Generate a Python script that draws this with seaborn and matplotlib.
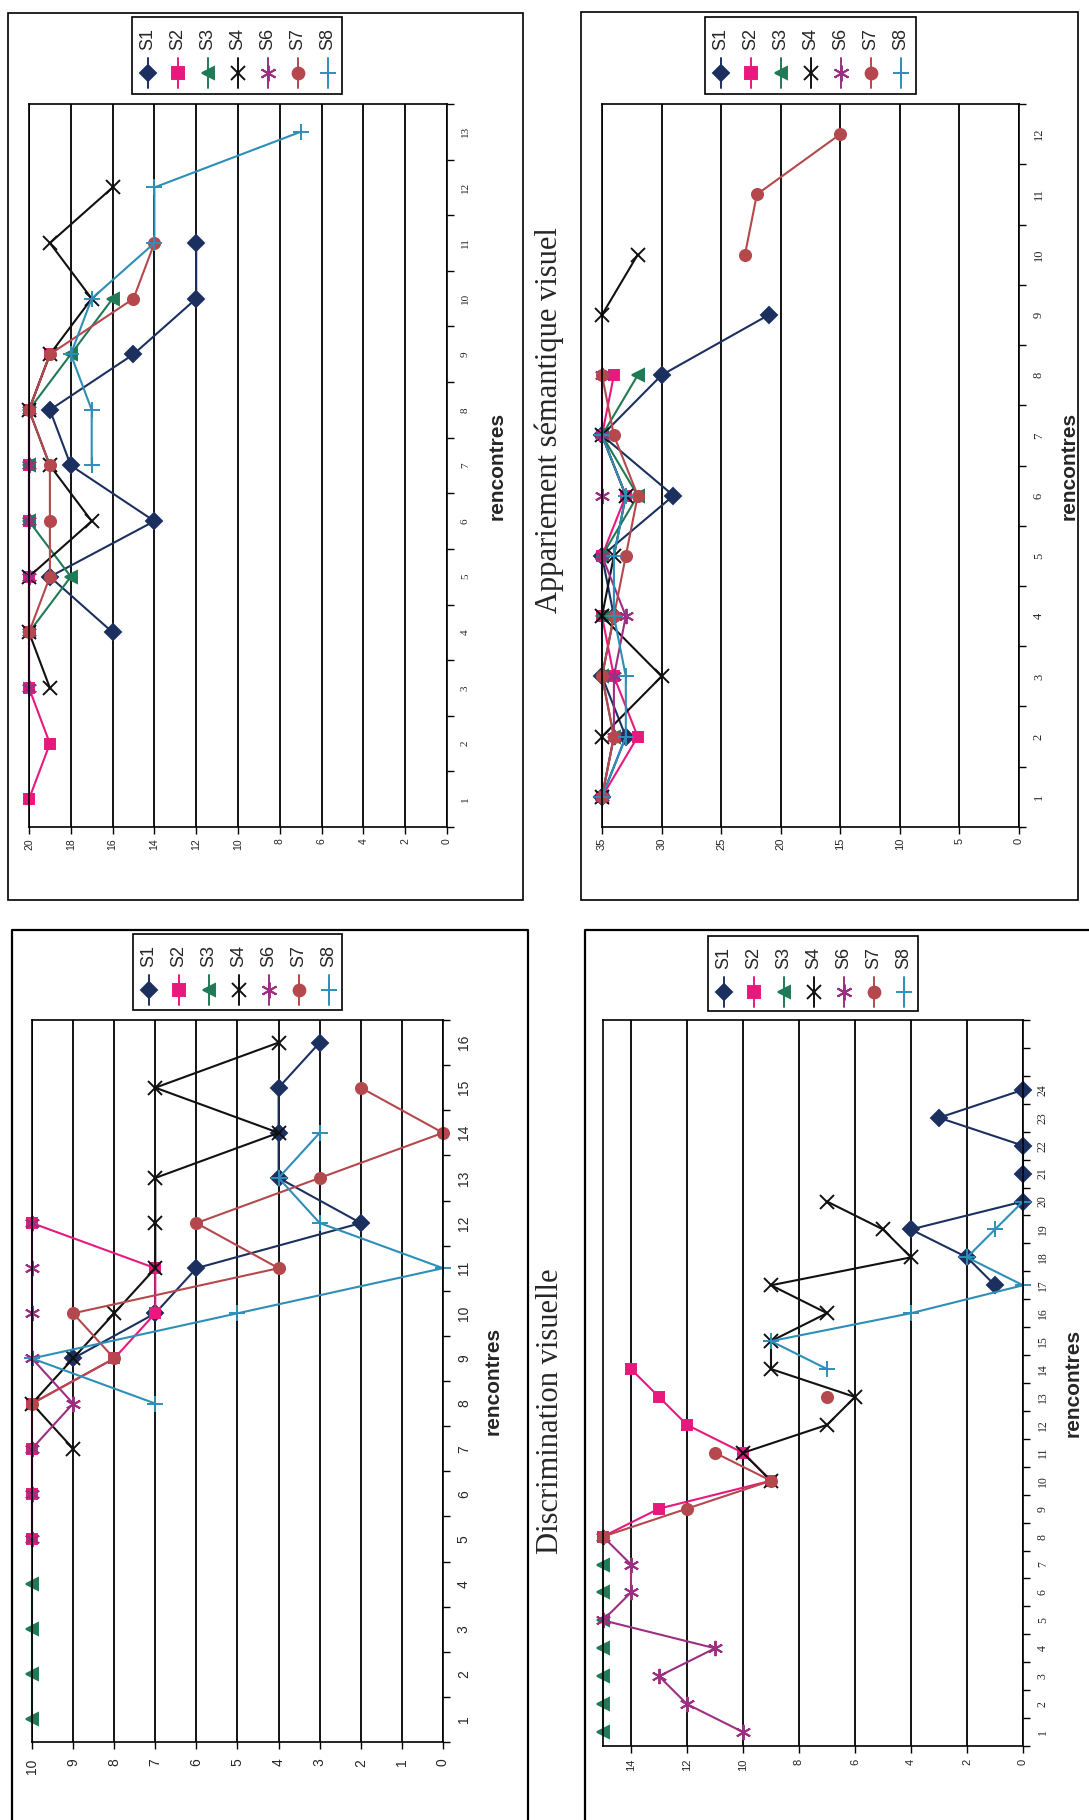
import matplotlib
matplotlib.use('Agg')
import matplotlib.pyplot as plt
import numpy as np
import pandas as pd
import seaborn as sns
from matplotlib.patches import Rectangle

W, H = 1089, 1820
N = None

sujets = ['S1', 'S2', 'S3', 'S4', 'S6', 'S7', 'S8']
couleurs = {'S1': '#1c3060', 'S2': '#e8197d', 'S3': '#1f7a55', 'S4': '#111111',
            'S6': '#9c2f82', 'S7': '#b5484d', 'S8': '#2d8fb8'}
marqueurs = {'S1': 'D', 'S2': 's', 'S3': '<', 'S4': 'x', 'S6': (6, 2, 0), 'S7': 'o', 'S8': '+'}

# haut gauche : 13 rencontres, score sur 20
rencontres_a = list(range(1, 14))
a_s1 = [N, N, N, 16, 19, 14, 18, 19, 15, 12, 12, N, N]
a_s2 = [20, 19, 20, 20, 20, 20, 20, 20, 19, N, N, N, N]
a_s3 = [N, N, N, 20, 18, 20, 20, 20, 18, 16, N, N, N]
a_s4 = [N, N, 19, 20, 20, 17, 19, 20, 19, 17, 19, 16, N]
a_s6 = [N, N, 20, 20, 20, 20, 20, 20, N, N, N, N, N]
a_s7 = [N, N, N, 20, 19, 19, 19, 20, 19, 15, 14, N, N]
a_s8 = [N, N, N, N, N, N, 17, 17, 18, 17, 14, 14, 7]

# haut droite : Appariement sémantique visuel, score sur 35
rencontres_b = list(range(1, 13))
b_s1 = [35, 33, 35, 34, 35, 29, 35, 30, 21, N, N, N]
b_s2 = [35, 32, 34, 35, 35, 33, 35, 34, N, N, N, N]
b_s3 = [35, 34, 35, 35, 35, 32, 35, 32, N, N, N, N]
b_s4 = [35, 35, 30, 35, 34, 33, 35, N, 35, 32, N, N]
b_s6 = [35, 34, 34, 33, 35, 35, 35, 35, N, N, N, N]
b_s7 = [35, 34, 35, 34, 33, 32, 34, 35, N, 23, 22, 15]
b_s8 = [35, 33, 33, 34, 34, 33, 35, N, N, N, N, N]

# bas gauche : 16 rencontres, score sur 10
rencontres_c = list(range(1, 17))
c_s1 = [N, N, N, N, N, N, N, N, 9, 7, 6, 2, 4, 4, 4, 3]
c_s2 = [N, N, N, N, 10, 10, 10, 10, 8, 7, 7, 10, N, N, N, N]
c_s3 = [10, 10, 10, 10, N, N, N, N, N, N, N, N, N, N, N, N]
c_s4 = [N, N, N, N, N, N, 9, 10, 9, 8, 7, 7, 7, 4, 7, 4]
c_s6 = [N, N, N, N, 10, 10, 10, 9, 10, 10, 10, 10, N, N, N, N]
c_s7 = [N, N, N, N, N, N, N, 10, 8, 9, 4, 6, 3, 0, 2, N]
c_s8 = [N, N, N, N, N, N, N, 7, 10, 5, 0, 3, 4, 3, N, N]

# bas droite : Discrimination visuelle, score sur 15
rencontres_d = list(range(1, 25))
d_s1 = [N] * 16 + [1, 2, 4, 0, 0, 0, 3, 0]
d_s2 = [N] * 7 + [15, 13, 9, 10, 12, 13, 14] + [N] * 10
d_s3 = [15, 15, 15, 15, 15, 15, 15] + [N] * 17
d_s4 = [N] * 9 + [9, 10, 7, 6, 9, 9, 7, 9, 4, 5, 7] + [N] * 4
d_s6 = [10, 12, 13, 11, 15, 14, 14, 15] + [N] * 16
d_s7 = [N] * 7 + [15, 12, 9, 11, N, 7] + [N] * 11
d_s8 = [N] * 13 + [7, 9, 4, 0, 2, 1, 0] + [N] * 4

panneaux = [
    dict(rencontres=rencontres_a, series=dict(zip(sujets, [a_s1, a_s2, a_s3, a_s4, a_s6, a_s7, a_s8])),
         vmax=20, pas=2, nmax=13, box=(29, 104, 447, 827), vfs=7.5, cfs=8, cserif=True, vpad=3,
         leg=(132, 17, 342, 94)),
    dict(rencontres=rencontres_b, series=dict(zip(sujets, [b_s1, b_s2, b_s3, b_s4, b_s6, b_s7, b_s8])),
         vmax=35, pas=5, nmax=12, box=(602, 104, 1019, 827), vfs=8, cfs=9, cserif=True, vpad=3,
         leg=(705, 17, 916, 94)),
    dict(rencontres=rencontres_c, series=dict(zip(sujets, [c_s1, c_s2, c_s3, c_s4, c_s6, c_s7, c_s8])),
         vmax=10, pas=1, nmax=16, box=(32, 1020, 443, 1742), vfs=10, cfs=10, cserif=False, vpad=7,
         leg=(133, 934, 342, 1010)),
    dict(rencontres=rencontres_d, series=dict(zip(sujets, [d_s1, d_s2, d_s3, d_s4, d_s6, d_s7, d_s8])),
         vmax=15, pas=2, nmax=26, box=(603, 1020, 1023, 1746), vfs=8, cfs=8.5, cserif=True, vpad=4,
         leg=(708, 936, 918, 1011)),
]


def en_long(rencontres, series):
    rows = []
    for nom, vals in series.items():
        seg, avant = 0, False
        for r, v in zip(rencontres, vals):
            if v is None:
                if avant:
                    seg += 1
                avant = False
                continue
            rows.append((nom, r, v, seg))
            avant = True
    return pd.DataFrame(rows, columns=['sujet', 'rencontre', 'score', 'seg'])


tailles = {'D': 8, 's': 7.5, 'o': 8, '<': 8.5, 'x': 9.5, '+': 11}


def style_marqueur(nom, bonus=0):
    m = marqueurs[nom]
    return dict(marker=m, markersize=tailles.get(m, 11) + bonus, markeredgecolor=couleurs[nom],
                markerfacecolor=couleurs[nom], markeredgewidth=1.4)


sns.set_theme(style='white')
plt.rcParams['font.family'] = ['Liberation Sans', 'DejaVu Sans']

fig = plt.figure(figsize=(W / 100, H / 100), dpi=100)
bg = fig.add_axes([0, 0, 1, 1], zorder=-1)
bg.set_xlim(0, W)
bg.set_ylim(H, 0)
bg.axis('off')

# cadres de page
bg.add_patch(Rectangle((8, 13), 515, 887, fill=False, ec='black', lw=1.2))
bg.add_patch(Rectangle((581, 12), 497, 888, fill=False, ec='black', lw=1.2))
bg.plot([12, 12, 528, 528], [H, 930, 930, H], color='black', lw=1.6)
bg.plot([585, 585, W], [H, 930, 930], color='black', lw=1.6)

bg.text(549, 420, 'Appariement sémantique visuel', rotation=90, ha='center', va='center',
        fontsize=22, family=['Liberation Serif', 'DejaVu Serif'])
bg.text(551, 1411, 'Discrimination visuelle', rotation=90, ha='center', va='center',
        fontsize=22, family=['Liberation Serif', 'DejaVu Serif'])

for p in panneaux:
    L, T, R, B = p['box']
    ax = fig.add_axes([L / W, 1 - B / H, (R - L) / W, (B - T) / H])
    df = en_long(p['rencontres'], p['series'])
    for nom in sujets:
        sub = df[df['sujet'] == nom]
        if sub.empty:
            continue
        sns.lineplot(data=sub, x='score', y='rencontre', units='seg', estimator=None, sort=False,
                     color=couleurs[nom], linewidth=1.5, legend=False, clip_on=False, ax=ax,
                     **style_marqueur(nom))

    ax.set_xlim(p['vmax'], 0)
    ax.set_ylim(0.5, p['nmax'] + 0.5)
    ax.set_xticks(np.arange(0, p['vmax'] + 0.01, p['pas']))
    ax.grid(axis='x', color='black', lw=1.3)
    ax.grid(axis='y', visible=False)
    ax.set_axisbelow(True)
    for s in ax.spines.values():
        s.set_color('black')
        s.set_linewidth(1.2)

    ax.yaxis.tick_right()
    ax.set_yticks(p['rencontres'])
    ax.set_yticks(np.arange(0.5, p['nmax'] + 1, 1), minor=True)
    ax.tick_params(axis='y', which='major', length=0, pad=10, labelsize=p['cfs'], labelrotation=90)
    ax.tick_params(axis='y', which='minor', length=5, width=1, direction='out', color='black', right=True, left=False)
    ax.tick_params(axis='x', which='major', length=5, width=1, direction='out', color='black', bottom=True,
                   labelsize=p['vfs'], labelrotation=90, pad=p['vpad'])
    for t in ax.get_yticklabels():
        t.set_va('center')
        if p['cserif']:
            t.set_family(['Liberation Serif', 'DejaVu Serif'])

    ax.set_xlabel('')
    ax.yaxis.set_label_position('right')
    ax.set_ylabel('rencontres', fontsize=15, fontweight='bold', rotation=90)
    ax.yaxis.label.set_ha('center')
    ax.yaxis.label.set_va('center')
    xl = (p['box'][2] + 50 - L) / (R - L)
    ax.yaxis.set_label_coords(xl, 0.5)

    # légende (série par série, tournée comme la page)
    x0, y0, x1, y1 = p['leg']
    bg.add_patch(Rectangle((x0, y0), x1 - x0, y1 - y0, fill=False, ec='black', lw=1.2))
    for i, nom in enumerate(sujets):
        xc = x0 + 16 + i * 30
        bg.text(xc, y0 + 22, nom, rotation=90, ha='center', va='center', fontsize=13)
        bg.plot([xc, xc], [y0 + 41, y0 + 71], color=couleurs[nom], lw=1.4)
        bg.plot([xc], [y0 + 56], linestyle='none', **style_marqueur(nom, 0.5))

fig.savefig('out.png', dpi=100)
